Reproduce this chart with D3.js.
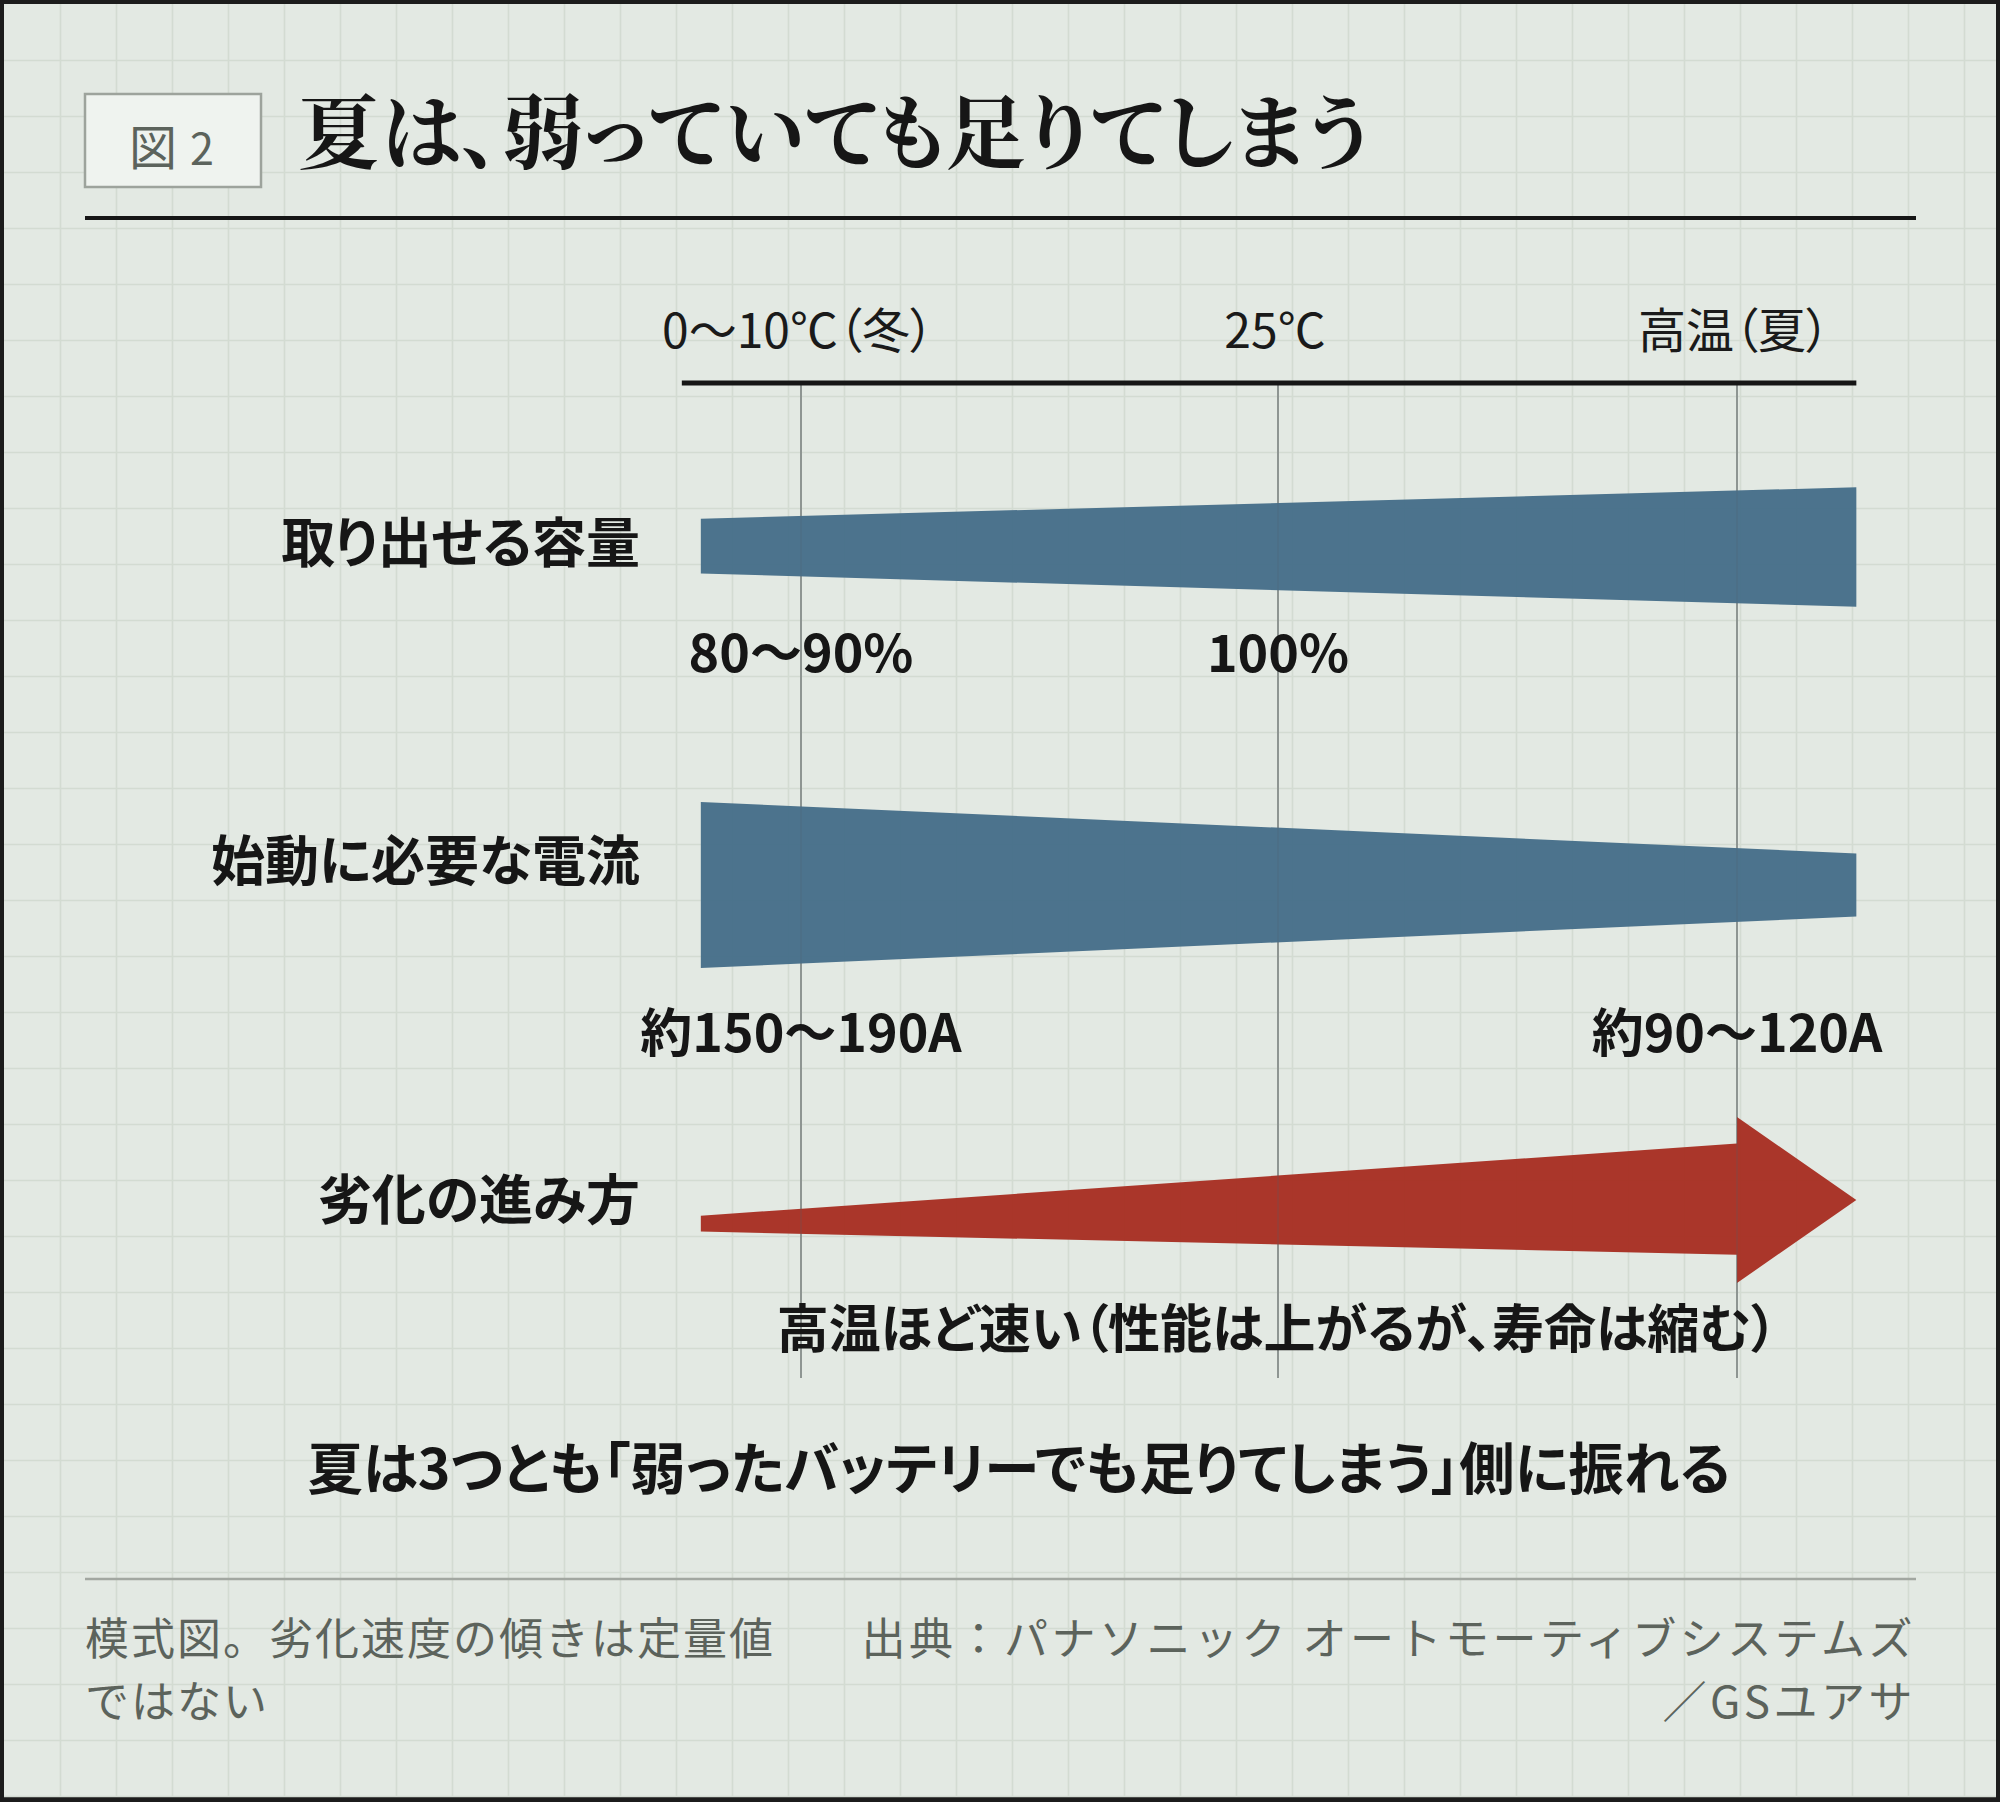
<!DOCTYPE html>
<html><head><meta charset="utf-8">
<script src="https://cdn.jsdelivr.net/npm/d3@7"></script>
<style>
html,body{margin:0;padding:0;background:#1c1c1c;}
svg{display:block;}
text{font-family:"Noto Sans CJK JP","Noto Sans",sans-serif;}
</style></head>
<body>
<svg id="chart" width="2000" height="1802"></svg>
<script>
// ---- data ----
const figLabel = "図";
const figNumber = "2";
const titleText = "夏は、弱っていても足りてしまう";
const tempLabels = ["0〜10℃（冬）", "25℃", "高温（夏）"];
const tempIndex = [0, 1, 2];
const edgeIndex = [-0.21, 2.26];             // cold end, hot end of the bands
const rowLabels = ["取り出せる容量", "始動に必要な電流", "劣化の進み方"];
// band edges (upper, lower) at cold end and hot end, relative units (+ = up)
const capacityUpper = [17, 36];
const capacityLower = [-16, -36];
const currentUpper = [50, 19];
const currentLower = [-50, -19];
const agingUpper = [-9.5, 34];                // tail, shaft end (at 高温 tick)
const agingLower = [-19, -33];
const agingHead = [50, -50];                  // arrow head half-widths
const capacityValues = ["80〜90%", "100%"];
const capacityValueIndex = [0, 1];
const currentValues = ["約150〜190A", "約90〜120A"];
const currentValueIndex = [0, 2];
const agingNote = "高温ほど速い（性能は上がるが、寿命は縮む）";
const summaryText = "夏は3つとも「弱ったバッテリーでも足りてしまう」側に振れる";
const noteLines = ["模式図。劣化速度の傾きは定量値", "ではない"];
const sourceLines = ["出典：パナソニック オートモーティブシステムズ", "／GSユアサ"];

// ---- layout ----
const W = 2000, H = 1802;
const svg = d3.select("#chart");
const x = d3.scaleLinear().domain(tempIndex).range([801, 1278, 1737]);
const t = d3.scaleLinear().domain([-50, 50]).range([83, -83]); // thickness offset
const rowCenter = [547, 885, 1200];
const rowLabelBase = [563, 881, 1220];

// background + frame
svg.append("rect").attr("width", W).attr("height", H).attr("fill", "#1c1c1c");
svg.append("rect").attr("x", 4).attr("y", 4).attr("width", W - 8).attr("height", H - 9).attr("fill", "#e3e9e3");

// grid
const grid = svg.append("g").attr("stroke", "#d3dbd2").attr("stroke-width", 1.6);
d3.range(4.5 + 56, W - 4, 56).forEach(gx => grid.append("line").attr("x1", gx).attr("x2", gx).attr("y1", 4).attr("y2", H - 5));
d3.range(4.5 + 56, H - 5, 56).forEach(gy => grid.append("line").attr("y1", gy).attr("y2", gy).attr("x1", 4).attr("x2", W - 4));

// figure tag
svg.append("rect").attr("x", 85).attr("y", 94).attr("width", 176).attr("height", 93)
  .attr("fill", "#eff3ef").attr("stroke", "#9da39c").attr("stroke-width", 2.5);
const tag = svg.append("text").attr("x", 129).attr("y", 165).attr("fill", "#5c635c");
tag.append("tspan").attr("font-size", 48).text(figLabel);
tag.append("tspan").attr("font-size", 43).attr("dx", 13).text(figNumber);

// title
svg.append("text").attr("x", 298).attr("y", 162).attr("font-size", 81).attr("font-weight", 700)
  .attr("fill", "#161616")
  .style("font-family", "'Noto Serif CJK JP','Noto Sans CJK JP',serif")
  .style("font-feature-settings", "'palt'")
  .text(titleText);
svg.append("line").attr("x1", 85).attr("x2", 1916).attr("y1", 218).attr("y2", 218)
  .attr("stroke", "#161616").attr("stroke-width", 4);

// reference verticals
svg.append("g").selectAll("line").data(tempIndex).join("line")
  .attr("x1", d => x(d)).attr("x2", d => x(d)).attr("y1", 383).attr("y2", 1378)
  .attr("stroke", "#9a9f99").attr("stroke-width", 2);

// bands
const blue = "#48708b", red = "#a83226";
function band(upper, lower, cy) {
  const pts = [[x(edgeIndex[0]), cy + t(upper[0])], [x(edgeIndex[1]), cy + t(upper[1])],
               [x(edgeIndex[1]), cy + t(lower[1])], [x(edgeIndex[0]), cy + t(lower[0])]];
  return "M" + pts.map(p => p.join(",")).join("L") + "Z";
}
const bands = svg.append("g").attr("opacity", 0.98);
bands.append("path").attr("d", band(capacityUpper, capacityLower, rowCenter[0])).attr("fill", blue);
bands.append("path").attr("d", band(currentUpper, currentLower, rowCenter[1])).attr("fill", blue);
{
  const cy = rowCenter[2];
  const pts = [
    [x(edgeIndex[0]), cy + t(agingUpper[0])],
    [x(tempIndex[2]), cy + t(agingUpper[1])],
    [x(tempIndex[2]), cy + t(agingHead[0])],
    [x(edgeIndex[1]), cy],
    [x(tempIndex[2]), cy + t(agingHead[1])],
    [x(tempIndex[2]), cy + t(agingLower[1])],
    [x(edgeIndex[0]), cy + t(agingLower[0])]
  ];
  bands.append("path").attr("d", "M" + pts.map(p => p.join(",")).join("L") + "Z").attr("fill", red);
}

// verticals faintly over bands (they show through in reference)
svg.append("g").selectAll("line").data(tempIndex).join("line")
  .attr("x1", d => x(d)).attr("x2", d => x(d)).attr("y1", 383).attr("y2", 1378)
  .attr("stroke", "#5a6a74").attr("stroke-opacity", 0.18).attr("stroke-width", 2);

// axis line + temperature labels
svg.append("line").attr("x1", x(edgeIndex[0]) - 19).attr("x2", x(edgeIndex[1])).attr("y1", 383).attr("y2", 383)
  .attr("stroke", "#161616").attr("stroke-width", 5);
svg.append("g").selectAll("text").data(tempLabels).join("text")
  .attr("x", (d, i) => x(tempIndex[i]) - 3).attr("y", 348).attr("text-anchor", "middle")
  .attr("font-size", 48).attr("fill", "#1a1a1a")
  .style("font-feature-settings", "'palt'")
  .text(d => d);

// row labels
svg.append("g").selectAll("text").data(rowLabels).join("text")
  .attr("x", 640).attr("y", (d, i) => rowLabelBase[i]).attr("text-anchor", "end")
  .attr("font-size", 54).attr("font-weight", 700).attr("fill", "#161616")
  .style("font-feature-settings", "'palt'")
  .text(d => d);

// value labels
svg.append("g").selectAll("text").data(capacityValues).join("text")
  .attr("x", (d, i) => x(capacityValueIndex[i])).attr("y", 672).attr("text-anchor", "middle")
  .attr("font-size", 52).attr("font-weight", 700).attr("fill", "#161616").text(d => d);
svg.append("g").selectAll("text").data(currentValues).join("text")
  .attr("x", (d, i) => x(currentValueIndex[i])).attr("y", 1052).attr("text-anchor", "middle")
  .attr("font-size", 52).attr("font-weight", 700).attr("fill", "#161616").text(d => d);

svg.append("text").attr("x", x(1) - 1).attr("y", 1348).attr("text-anchor", "middle")
  .attr("font-size", 52).attr("font-weight", 700).attr("fill", "#161616")
  .style("font-feature-settings", "'palt'")
  .text(agingNote);

svg.append("text").attr("x", 1019).attr("y", 1489).attr("text-anchor", "middle")
  .attr("font-size", 55.5).attr("font-weight", 700).attr("fill", "#161616")
  .style("font-feature-settings", "'palt'").text(summaryText);

// footer
svg.append("line").attr("x1", 85).attr("x2", 1916).attr("y1", 1579).attr("y2", 1579)
  .attr("stroke", "#a2a7a1").attr("stroke-width", 2.5);
svg.append("g").selectAll("text").data(noteLines).join("text")
  .attr("x", 85).attr("y", (d, i) => 1655 + i * 63)
  .attr("font-size", 44).attr("fill", "#5c635c").attr("letter-spacing", 2).text(d => d);
svg.append("g").selectAll("text").data(sourceLines).join("text")
  .attr("x", 1916).attr("y", (d, i) => 1655 + i * 63).attr("text-anchor", "end")
  .attr("font-size", 44).attr("fill", "#5c635c").attr("letter-spacing", 3.5).text(d => d);
</script>
</body></html>
